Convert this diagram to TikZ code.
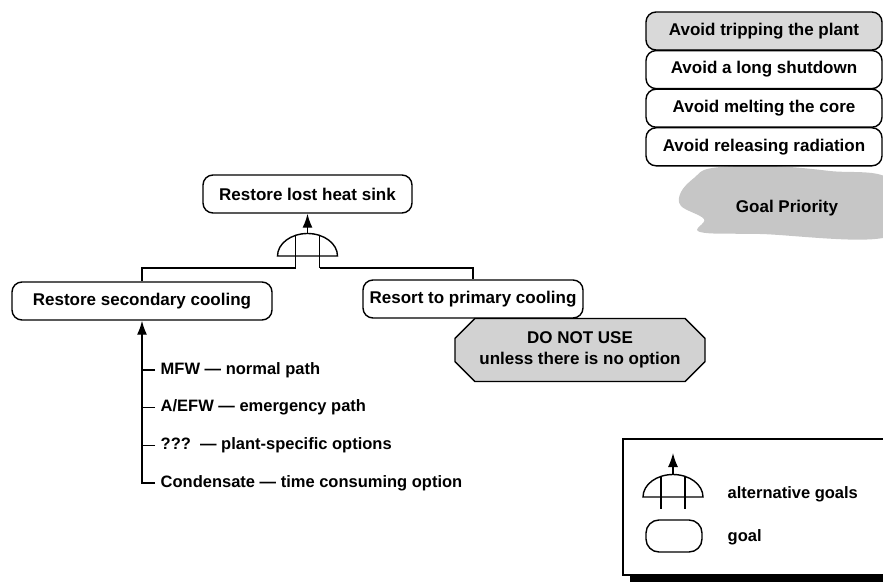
\documentclass[tikz,border=0pt]{standalone}
\usepackage{fontspec}
\setmainfont{Liberation Sans}
\usetikzlibrary{arrows.meta,shapes.misc}

\tikzset{
  orgate/.pic={
    \draw (-30,0) .. controls (-30,-12.4) and (-16.6,-22.5) .. (0,-22.5)
          .. controls (16.6,-22.5) and (30,-12.4) .. (30,0) -- cycle;
    \draw (-12,-20.6) -- (-12,12) (12,-20.6) -- (12,12);
    \coordinate (-top) at (0,-22.5);
    \coordinate (-l) at (-12,12);
    \coordinate (-r) at (12,12);
  }
}

\begin{document}
\begin{tikzpicture}[
    x=1pt, y=-1pt, line width=1.4pt,
    goal/.style={draw, rounded corners=10pt, minimum height=38pt, inner sep=0pt,
      font=\fontsize{17}{20}\selectfont\bfseries},
    prio/.style={goal, minimum width=236pt},
    item/.style={anchor=west, inner sep=0pt, font=\fontsize{16.5}{20}\selectfont\bfseries},
    halftone/.style={fill=gray!35},
    arrow/.style={-{Latex[length=14pt,width=10pt]}}
]
\useasboundingbox (0,0) rectangle (883,583);

\node[goal, minimum width=209pt] (sink) at (307.5,194) {Restore lost heat sink};
\pic (g) at (307.5,256) {orgate};
\node[goal, minimum width=260pt] (second) at (142,301) {Restore secondary cooling};
\node[goal, minimum width=220pt] (primary) at (473,299) {Resort to primary cooling};
\node[draw, halftone, chamfered rectangle, chamfered rectangle xsep=10pt,
  chamfered rectangle ysep=10pt, minimum width=250pt, minimum height=51pt,
  align=center, font=\fontsize{17}{21}\selectfont\bfseries] (donot) at (580,350)
  {DO NOT USE\\unless there is no option};

\draw[arrow] (g-top) -- (sink.south);
\draw (g-l) -| (second.north);
\draw (g-r) -| (primary.north);

\foreach \t [count=\i] in {MFW — normal path, A/EFW — emergency path,
    ???\ \ — plant-specific options, Condensate — time consuming option}
  \node[item] (o\i) at (160,{370+37.7*(\i-1)}) {\t};
\foreach \i in {1,2,3}
  \draw ([xshift=-5pt]o\i.west) -- (o\i.west -| second.south);
\draw[arrow] ([xshift=-5pt]o4.west) -| (second.south);

\fill[gray!45] plot[smooth cycle, tension=0.6] coordinates {(712,168) (770,166)
  (830,171) (890,180) (890,236) (760,234) (700,232) (704,219) (681,206)
  (681,192) (694,178)};
\node[font=\fontsize{17}{20}\selectfont\bfseries] (gp) at (787,208) {Goal Priority};

\foreach \t/\c [count=\i] in {Avoid tripping the plant/gray!30,
    Avoid a long shutdown/white, Avoid melting the core/white,
    Avoid releasing radiation/white}
  \node[prio, fill=\c] (p\i) at (764,{31+38.6*(\i-1)}) {\t};

\fill (630,574) rectangle (900,582);
\draw[fill=white] (623,439) rectangle (900,575);
\pic (lg) at (673,497) {orgate};
\coordinate (lgtip) at (673,453);
\draw[arrow] (lg-top) -- (lgtip);
\node[item] (alt) at (727,494) {alternative goals};
\node[goal, minimum width=56pt, minimum height=32pt, rounded corners=13pt] (lgoal) at (674,536) {};
\node[item] (gl) at (727,537) {goal};

\end{tikzpicture}
\end{document}
